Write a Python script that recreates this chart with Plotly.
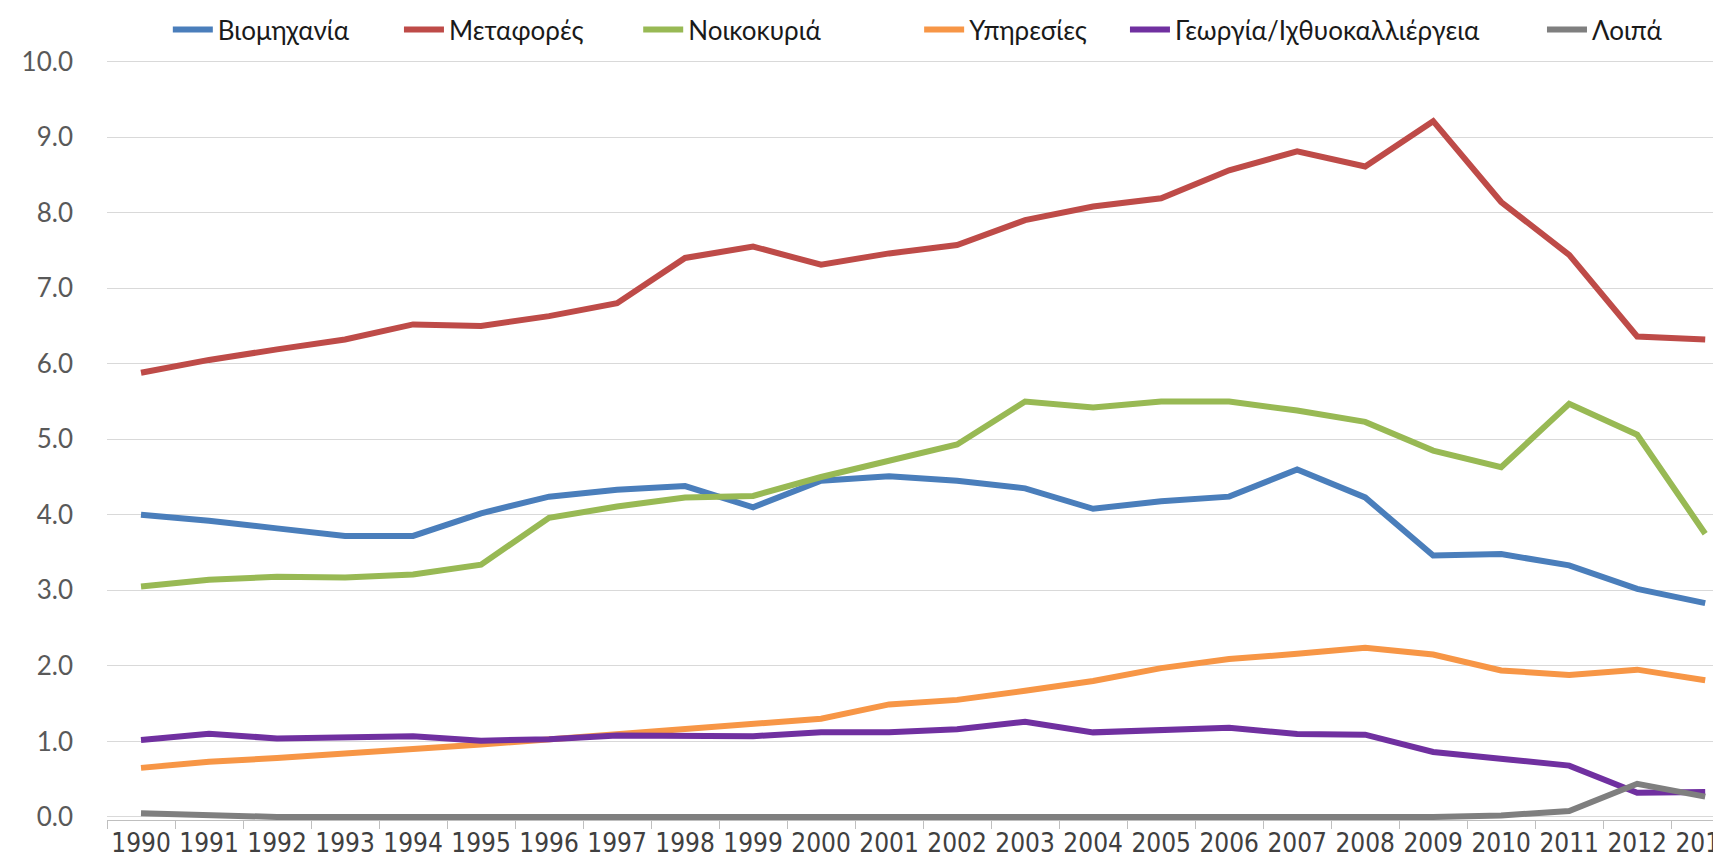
import plotly.graph_objects as go

years = [str(y) for y in range(1990, 2014)]

industry = [4.00, 3.92, 3.82, 3.72, 3.72, 4.02, 4.24, 4.33, 4.38, 4.10, 4.45, 4.51,
            4.45, 4.35, 4.08, 4.18, 4.24, 4.60, 4.23, 3.46, 3.48, 3.33, 3.02, 2.83]
transport = [5.88, 6.05, 6.19, 6.32, 6.52, 6.50, 6.63, 6.80, 7.40, 7.55, 7.31, 7.46,
             7.57, 7.90, 8.08, 8.19, 8.56, 8.81, 8.61, 9.21, 8.14, 7.44, 6.36, 6.32]
households = [3.05, 3.14, 3.18, 3.17, 3.21, 3.34, 3.96, 4.11, 4.23, 4.25, 4.50, 4.71,
              4.93, 5.50, 5.42, 5.50, 5.50, 5.38, 5.23, 4.85, 4.63, 5.47, 5.06, 3.75]
services = [0.65, 0.73, 0.78, 0.83, 0.90, 0.96, 1.03, 1.10, 1.18, 1.24, 1.30, 1.49,
            1.55, 1.67, 1.80, 1.97, 2.09, 2.16, 2.24, 2.15, 1.94, 1.88, 1.95, 1.81]
agriculture = [1.02, 1.10, 1.04, 1.06, 1.07, 1.01, 1.03, 1.08, 1.07, 1.07, 1.12, 1.12,
               1.16, 1.26, 1.12, 1.14, 1.18, 1.10, 1.09, 0.86, 0.77, 0.68, 0.32, 0.33]
other = [0.05, 0.02, 0.0, 0.0, 0.0, 0.0, 0.0, 0.0, 0.0, 0.0, 0.0, 0.0,
         0.0, 0.0, 0.0, 0.0, 0.0, 0.0, 0.0, 0.0, 0.02, 0.08, 0.44, 0.27]

names = ["Βιομηχανία", "Μεταφορές", "Νοικοκυριά", "Υπηρεσίες",
         "Γεωργία/Ιχθυοκαλλιέργεια", "Λοιπά"]
series = [industry, transport, households, services, agriculture, other]
colors = ["#4A7EBB", "#BE4B48", "#98B954", "#F79646", "#7030A0", "#7F7F7F"]
legend_x = [0.0375, 0.180, 0.3275, 0.5007, 0.6276, 0.8847]

fig = go.Figure()
for i, (n, s, c) in enumerate(zip(names, series, colors)):
    lg = "legend" if i == 0 else f"legend{i+1}"
    fig.add_trace(go.Scatter(x=years, y=s, name=n, mode="lines",
                             line=dict(color=c, width=6), legend=lg))

legend_common = dict(orientation="h", yanchor="middle", y=1.04, xanchor="left",
                     font=dict(family="Lato, Liberation Sans, sans-serif", size=26, color="#1a1a1a"),
                     bgcolor="rgba(0,0,0,0)", itemwidth=40)
layout_legends = {}
for i in range(6):
    key = "legend" if i == 0 else f"legend{i+1}"
    layout_legends[key] = dict(legend_common, x=legend_x[i])

fig.update_layout(
    width=1721, height=859,
    margin=dict(l=99, r=0, t=52, b=47, autoexpand=False),
    plot_bgcolor="white", paper_bgcolor="white",
    showlegend=True,
    **layout_legends,
)
fig.update_xaxes(type="category", range=[-0.5, 23.35], automargin=False,
                 tickangle=0,
                 showgrid=False, showline=True, linecolor="#BFBFBF", linewidth=1,
                 ticks="outside", tickson="boundaries", ticklen=8, tickcolor="#BFBFBF",
                 tickfont=dict(family="Liberation Sans Narrow, DejaVu Sans Condensed, sans-serif",
                               size=26, color="#404040"),
                 zeroline=False)
fig.update_yaxes(range=[-0.04, 10.02], dtick=1, tick0=0, tickformat=".1f", automargin=False,
                 showgrid=True, gridcolor="#D9D9D9", gridwidth=1,
                 zeroline=False, showline=False,
                 ticklabelstandoff=33,
                 tickfont=dict(family="Lato, Liberation Sans, sans-serif", size=26, color="#595959"))

fig.write_html("out.html")
